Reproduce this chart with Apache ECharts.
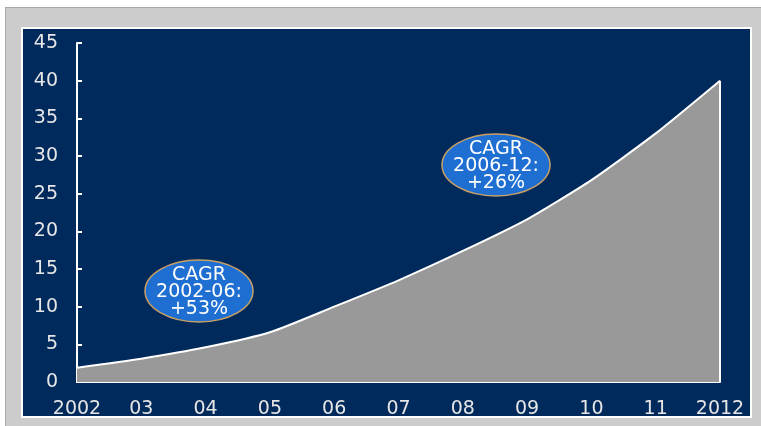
<!DOCTYPE html>
<html>
<head>
<meta charset="utf-8">
<script src="https://cdn.jsdelivr.net/npm/echarts/dist/echarts.min.js"></script>
<style>
  html, body { margin: 0; padding: 0; background: #ffffff; }
  #chart { width: 761px; height: 426px; }
</style>
</head>
<body>
<div id="chart"></div>
<script>
// Market size by year (axis 0–45)
const years = ['2002', '03', '04', '05', '06', '07', '08', '09', '10', '11', '2012'];
const values = [1.9, 3.1, 4.6, 6.6, 10.0, 13.5, 17.4, 21.6, 26.8, 33.0, 40.0];
const yMin = 0, yMax = 45, yStep = 5;
const growthNotes = [
  ['CAGR', '2002-06:', '+53%'],
  ['CAGR', '2006-12:', '+26%']
];

const NAVY = '#002A5C';
const LABEL_FONT = '"DejaVu Sans", "Liberation Sans", Arial, sans-serif';

function bubble(cx, cy, lines) {
  return {
    type: 'group',
    z: 100,
    children: [
      {
        type: 'ellipse', z: 100,
        shape: { cx: cx, cy: cy, rx: 54, ry: 31 },
        style: { fill: '#1F6FD3', stroke: '#C9A063', lineWidth: 1.5 }
      },
      {
        type: 'text', z: 101,
        x: cx, y: cy + 1,
        style: {
          text: lines.join('\n'),
          fill: '#ffffff',
          font: '19px ' + LABEL_FONT,
          textAlign: 'center', textVerticalAlign: 'middle',
          align: 'center', verticalAlign: 'middle',
          lineHeight: 17
        }
      }
    ]
  };
}

const chart = echarts.init(document.getElementById('chart'), null, { renderer: 'canvas' });

chart.setOption({
  animation: false,
  backgroundColor: '#ffffff',
  graphic: [
    // outer grey frame
    { type: 'rect', z: -20, shape: { x: 5, y: 7, width: 756, height: 419 },
      style: { fill: '#CCCCCC' } },
    { type: 'line', z: -19, shape: { x1: 5, y1: 7.5, x2: 761, y2: 7.5 },
      style: { stroke: '#A8A8A8', lineWidth: 1 } },
    { type: 'line', z: -19, shape: { x1: 5.5, y1: 7, x2: 5.5, y2: 426 },
      style: { stroke: '#A8A8A8', lineWidth: 1 } },
    // navy panel with white edge
    { type: 'rect', z: -18, shape: { x: 22, y: 28, width: 729, height: 389 },
      style: { fill: NAVY, stroke: '#ffffff', lineWidth: 2 } },
    bubble(199, 291, growthNotes[0]),
    bubble(496, 165, growthNotes[1])
  ],
  grid: { left: 77, right: 41, top: 43, bottom: 44, containLabel: false },
  xAxis: {
    type: 'category',
    data: years,
    boundaryGap: false,
    axisLine: { lineStyle: { color: '#ffffff', width: 2 } },
    axisTick: { show: true, inside: true, length: 4, lineStyle: { color: '#ffffff', width: 2 } },
    axisLabel: { color: '#E6E6E6', fontFamily: LABEL_FONT, fontSize: 19, margin: 18, interval: 0 },
    splitLine: { show: false }
  },
  yAxis: {
    type: 'value',
    min: yMin, max: yMax, interval: yStep,
    axisLine: { show: true, lineStyle: { color: '#ffffff', width: 2 } },
    axisTick: { show: true, inside: true, length: 5, lineStyle: { color: '#ffffff', width: 2 } },
    axisLabel: { color: '#E6E6E6', fontFamily: LABEL_FONT, fontSize: 19, margin: 19 },
    splitLine: { show: false }
  },
  series: [{
    type: 'line',
    data: values,
    smooth: 0.2,
    symbol: 'none',
    z: 2,
    lineStyle: { color: '#ffffff', width: 2 },
    areaStyle: { color: '#999999', opacity: 1 },
    markLine: {
      silent: true,
      symbol: 'none',
      label: { show: false },
      lineStyle: { color: '#ffffff', width: 2, type: 'solid' },
      data: [[
        { coord: [years.length - 1, 0] },
        { coord: [years.length - 1, values[values.length - 1]] }
      ]]
    }
  }]
});
</script>
</body>
</html>
